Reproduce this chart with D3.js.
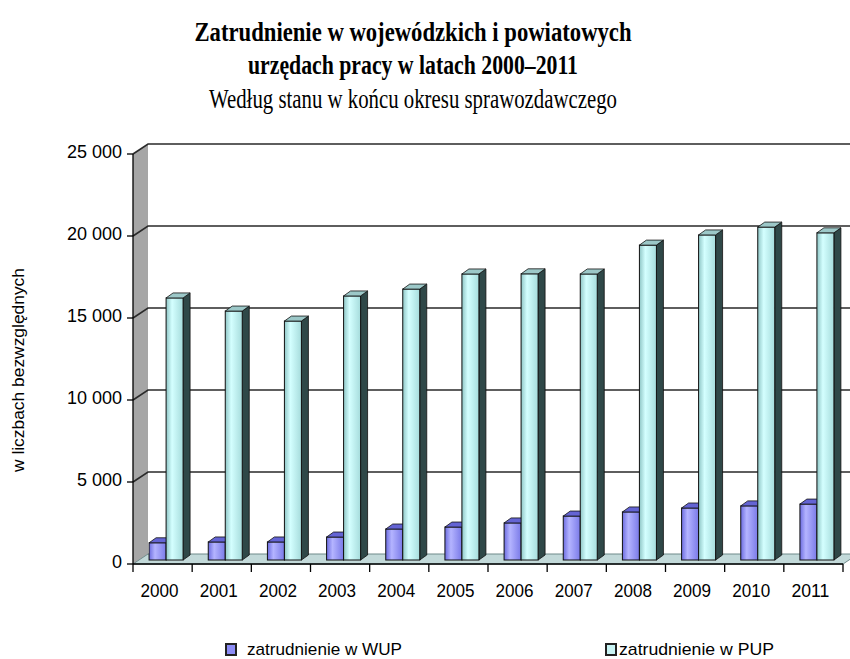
<!DOCTYPE html>
<html>
<head>
<meta charset="utf-8">
<script src="https://cdn.jsdelivr.net/npm/d3@7"></script>
<style>
  body { margin: 0; background: #fff; }
  svg { display: block; }
</style>
</head>
<body>
<svg id="chart" width="850" height="659"></svg>
<script>
// dane
const years = ["2000", "2001", "2002", "2003", "2004", "2005", "2006", "2007", "2008", "2009", "2010", "2011"];
const wup = [1050, 1100, 1100, 1400, 1890, 2010, 2260, 2680, 2930, 3170, 3300, 3410];
const pup = [15980, 15180, 14570, 16100, 16520, 17440, 17450, 17440, 19200, 19820, 20300, 19950];
const yTicks = [0, 5000, 10000, 15000, 20000, 25000];
const seriesNames = ["zatrudnienie w WUP", "zatrudnienie w PUP"];

const svg = d3.select("#chart");
const defs = svg.append("defs");

// gradienty slupkow
function gradient(id, stops) {
    const g = defs.append("linearGradient").attr("id", id)
        .attr("x1", "0%").attr("x2", "100%").attr("y1", "0%").attr("y2", "0%");
    stops.forEach(([o, c]) => g.append("stop").attr("offset", o).attr("stop-color", c));
}
gradient("gWup", [["0%", "#6c6ce0"], ["35%", "#b4b4ff"], ["100%", "#7a7ae8"]]);
gradient("gPup", [["0%", "#8fc6c6"], ["35%", "#d4ffff"], ["100%", "#a6dcdc"]]);

const fmt = d => d === 0 ? "0" : d3.format(",")(d).replace(",", " ");
const sans = "'Liberation Sans', Arial, sans-serif";
const serif = "'Liberation Serif', 'Times New Roman', serif";

// os X i Y
const x = d3.scaleBand().domain(years).range([133, 843]);
const y = d3.scaleLinear().domain([0, 25000]).range([564, 154]);

// glebia wykresu
const wallDx = 15, wallDy = -10;
const barDx = 7, barDy = -5;
const shiftX = 3.5, shiftY = -4;
const barW = 17;

// tytul (tekst w oryginale jest zwezony)
[
    { t: "Zatrudnienie w wojewódzkich i powiatowych", y: 41, len: 437, w: "bold" },
    { t: "urzędach pracy w latach 2000–2011", y: 74, len: 330, w: "bold" },
    { t: "Według stanu w końcu okresu sprawozdawczego", y: 108, len: 408, w: "normal" }
].forEach(d => {
    svg.append("text")
        .attr("x", 413).attr("y", d.y)
        .attr("text-anchor", "middle")
        .attr("textLength", d.len)
        .attr("lengthAdjust", "spacingAndGlyphs")
        .style("font", `${d.w} 27px ${serif}`)
        .text(d.t);
});

// boczna sciana
svg.append("path")
    .attr("d", `M133,${y(25000)} L${133 + wallDx},${y(25000) + wallDy} L${133 + wallDx},${y(0) + wallDy} L133,${y(0)} Z`)
    .attr("fill", "#a6a6a6");

// linie siatki
svg.append("g").selectAll("path")
    .data(yTicks.filter(d => d > 0))
    .join("path")
    .attr("d", d => `M133,${y(d)} L${133 + wallDx},${y(d) + wallDy} L850,${y(d) + wallDy}`)
    .attr("fill", "none")
    .attr("stroke", "#2a2a2a")
    .attr("stroke-width", 1.6);

// podloga
svg.append("path")
    .attr("d", `M133,${y(0)} L${133 + wallDx},${y(0) + wallDy} L${843 + wallDx},${y(0) + wallDy} L843,${y(0)} Z`)
    .attr("fill", "#c2d9d9")
    .attr("stroke", "#6f8a8a")
    .attr("stroke-width", 1);

// slupki 3D
function bar3d(g, x0, v, front, top) {
    const yb = y(0) + shiftY;
    const yt = y(v) + shiftY;
    g.append("path")
        .attr("d", `M${x0 + barW},${yb} L${x0 + barW + barDx},${yb + barDy} L${x0 + barW + barDx},${yt + barDy} L${x0 + barW},${yt} Z`)
        .attr("fill", "#2f4848").attr("stroke", "#111").attr("stroke-width", 0.8);
    g.append("rect")
        .attr("x", x0).attr("y", yt)
        .attr("width", barW).attr("height", yb - yt)
        .attr("fill", front).attr("stroke", "#111").attr("stroke-width", 1);
    g.append("path")
        .attr("d", `M${x0},${yt} L${x0 + barDx},${yt + barDy} L${x0 + barW + barDx},${yt + barDy} L${x0 + barW},${yt} Z`)
        .attr("fill", top).attr("stroke", "#111").attr("stroke-width", 0.8);
}

const bars = svg.append("g");
years.forEach((yr, i) => {
    const start = x(yr) + (x.bandwidth() - 2 * barW) / 2 + shiftX;
    bar3d(bars, start, wup[i], "url(#gWup)", "#6464d4");
    bar3d(bars, start + barW, pup[i], "url(#gPup)", "#9cc8c8");
});

// os Y
const yAxis = svg.append("g");
yAxis.append("line")
    .attr("x1", 133).attr("x2", 133).attr("y1", y(0)).attr("y2", y(25000))
    .attr("stroke", "#000").attr("stroke-width", 1.3);
yAxis.selectAll("line.tick")
    .data(yTicks)
    .join("line").attr("class", "tick")
    .attr("x1", 127).attr("x2", 133)
    .attr("y1", d => y(d)).attr("y2", d => y(d))
    .attr("stroke", "#000").attr("stroke-width", 1.3);
yAxis.selectAll("text")
    .data(yTicks)
    .join("text")
    .attr("x", 122).attr("y", d => y(d) - 2)
    .attr("dy", "0.35em")
    .attr("text-anchor", "end")
    .style("font", `18px ${sans}`)
    .text(fmt);

// os X
const xAxis = svg.append("g");
xAxis.append("line")
    .attr("x1", 133).attr("x2", 843).attr("y1", y(0)).attr("y2", y(0))
    .attr("stroke", "#000").attr("stroke-width", 1.3);
xAxis.selectAll("line.tick")
    .data(years.concat(["end"]))
    .join("line").attr("class", "tick")
    .attr("x1", d => d === "end" ? 843 : x(d))
    .attr("x2", d => d === "end" ? 843 : x(d))
    .attr("y1", y(0)).attr("y2", y(0) + 8)
    .attr("stroke", "#000").attr("stroke-width", 1.3);
xAxis.selectAll("text")
    .data(years)
    .join("text")
    .attr("x", d => x(d) + x.bandwidth() / 2 - 3)
    .attr("y", 597)
    .attr("text-anchor", "middle")
    .attr("textLength", 38)
    .attr("lengthAdjust", "spacingAndGlyphs")
    .style("font", `19px ${sans}`)
    .text(d => d);

// tytul osi Y
svg.append("text")
    .attr("transform", "translate(24,370) rotate(-90)")
    .attr("text-anchor", "middle")
    .attr("textLength", 204)
    .attr("lengthAdjust", "spacingAndGlyphs")
    .style("font", `17px ${sans}`)
    .text("w liczbach bezwzględnych");

// legenda
const legend = svg.append("g");
const legendItems = [
    { name: seriesNames[0], fill: "#8c8cf5", sx: 226, tx: 247 },
    { name: seriesNames[1], fill: "#c8f4f4", sx: 606, tx: 619 }
];
legendItems.forEach(d => {
    legend.append("rect")
        .attr("x", d.sx).attr("y", 644).attr("width", 10).attr("height", 11)
        .attr("fill", d.fill).attr("stroke", "#222").attr("stroke-width", 2);
    legend.append("text")
        .attr("x", d.tx).attr("y", 655)
        .attr("textLength", 155)
        .attr("lengthAdjust", "spacingAndGlyphs")
        .style("font", `17px ${sans}`)
        .text(d.name);
});
</script>
</body>
</html>
